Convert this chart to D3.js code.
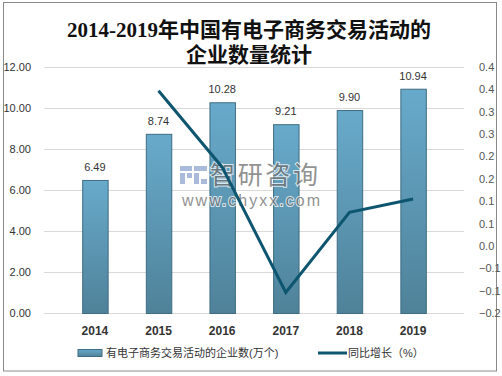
<!DOCTYPE html>
<html>
<head>
<meta charset="utf-8">
<script src="https://d3js.org/d3.v7.min.js"></script>
<style>
  body { margin: 0; background: #fff; }
  text { font-family: "Liberation Sans", "Noto Sans CJK SC", sans-serif; }
</style>
</head>
<body>
<script>
const years = ["2014", "2015", "2016", "2017", "2018", "2019"]
const companies = [6.49, 8.74, 10.28, 9.21, 9.90, 10.94]
// growth starts in 2015
const growthYears = ["2015", "2016", "2017", "2018", "2019"]
const growth = [0.347, 0.176, -0.104, 0.075, 0.105]
const leftTicks = [0, 2, 4, 6, 8, 10, 12]
const rightTicks = [-0.15, -0.1, -0.05, 0, 0.05, 0.1, 0.15, 0.2, 0.25, 0.3, 0.35, 0.4]
const titleLines = ["2014-2019年中国有电子商务交易活动的", "企业数量统计"]
const legendNames = ["有电子商务交易活动的企业数(万个)", "同比增长（%）"]

const w = 502, h = 376
const m = { top: 67, right: 38, bottom: 63, left: 44 }

const svg = d3.select("body").append("svg").attr("width", w).attr("height", h)

const defs = svg.append("defs")
const grad = defs.append("linearGradient").attr("id", "barGrad")
  .attr("x1", 0).attr("y1", 0).attr("x2", 0).attr("y2", 1)
grad.append("stop").attr("offset", "0%").attr("stop-color", "#68aacb")
grad.append("stop").attr("offset", "100%").attr("stop-color", "#4f8299")

// outer frame
svg.append("rect").attr("x", 3.5).attr("y", 2.5).attr("width", 493).attr("height", 368.5)
  .attr("fill", "none").attr("stroke", "#8a8a8a").attr("stroke-width", 1)

svg.selectAll(".title").data(titleLines).join("text")
  .attr("x", 249).attr("y", (d, i) => 37 + i * 25)
  .attr("text-anchor", "middle")
  .style("font-family", "'Liberation Serif', 'Noto Sans CJK SC', serif")
  .style("font-size", "21px").style("font-weight", "bold").attr("fill", "#111")
  .text(d => d)

const x = d3.scaleBand().domain(years).range([m.left, w - m.right]).padding(0.6)
const y = d3.scaleLinear().domain([0, 12]).range([h - m.bottom, m.top])
const y2 = d3.scaleLinear().domain([-0.15, 0.4]).range([h - m.bottom, m.top])

// gridlines
svg.append("g").selectAll("line").data(leftTicks).join("line")
  .attr("x1", m.left).attr("x2", w - m.right)
  .attr("y1", d => y(d) + 0.5).attr("y2", d => y(d) + 0.5)
  .attr("stroke", "#d9d9d9")

const yAxis = svg.append("g").attr("transform", `translate(${m.left - 10},0)`)
  .call(d3.axisLeft(y).tickValues(leftTicks).tickFormat(d3.format(".2f")).tickSize(0))
yAxis.select(".domain").remove()
yAxis.selectAll("text").attr("fill", "#333").style("font-size", "11px")

const y2Axis = svg.append("g").attr("transform", `translate(${w - m.right + 12},0)`)
  .call(d3.axisRight(y2).tickValues(rightTicks).tickFormat(d => d3.format(".1f")(Math.round(d * 10 + (d < 0 ? -1e-9 : 1e-9)) / 10)).tickSize(0))
y2Axis.select(".domain").remove()
y2Axis.selectAll("text").attr("fill", "#555").style("font-size", "11px")

const xAxis = svg.append("g").attr("transform", `translate(0,${h - m.bottom + 6})`)
  .call(d3.axisBottom(x).tickSize(0))
xAxis.select(".domain").remove()
xAxis.selectAll("text").attr("fill", "#333").style("font-size", "12px").style("font-weight", "bold").attr("dy", "1.1em")

// bars
svg.append("g").selectAll("rect").data(companies).join("rect")
  .attr("x", (d, i) => x(years[i]) + 0.5)
  .attr("y", d => y(d) + 0.5)
  .attr("width", x.bandwidth())
  .attr("height", d => y(0) - y(d))
  .attr("fill", "url(#barGrad)")
  .attr("stroke", "#3e6c82").attr("stroke-width", 1)

svg.append("g").selectAll("text").data(companies).join("text")
  .attr("x", (d, i) => x(years[i]) + x.bandwidth() / 2)
  .attr("y", d => y(d) - 9)
  .attr("text-anchor", "middle").attr("fill", "#333").style("font-size", "11px")
  .text(d => d.toFixed(2))

// watermark
const wm = svg.append("g").attr("opacity", 0.75)
const logoColor = "#8ea3cf"
wm.append("rect").attr("x", 180).attr("y", 166).attr("width", 12).attr("height", 5).attr("fill", logoColor)
wm.append("rect").attr("x", 180).attr("y", 173).attr("width", 5).attr("height", 11).attr("fill", logoColor)
wm.append("rect").attr("x", 187).attr("y", 173).attr("width", 5).attr("height", 5).attr("fill", logoColor)
wm.append("rect").attr("x", 194).attr("y", 166).attr("width", 13).attr("height", 5).attr("fill", logoColor)
wm.append("rect").attr("x", 194).attr("y", 173).attr("width", 5).attr("height", 11).attr("fill", logoColor)
wm.append("rect").attr("x", 201).attr("y", 179).attr("width", 6).attr("height", 5).attr("fill", logoColor)
wm.append("text").attr("x", 210).attr("y", 184).attr("fill", "#6e6e6e")
  .attr("stroke", "#fff").attr("stroke-width", 2).attr("paint-order", "stroke")
  .attr("textLength", 108)
  .style("font-family", "'Noto Sans CJK SC', sans-serif").style("font-size", "25px")
  .text("智研咨询")
wm.append("text").attr("x", 182).attr("y", 206).attr("fill", "#6e6e6e")
  .attr("stroke", "#fff").attr("stroke-width", 2).attr("paint-order", "stroke")
  .attr("textLength", 138)
  .style("font-size", "16px")
  .text("www.chyxx.com")

// growth line
const line = d3.line()
  .x((d, i) => x(growthYears[i]) + x.bandwidth() / 2)
  .y(d => y2(d))
svg.append("path").datum(growth).attr("d", line)
  .attr("fill", "none").attr("stroke", "#0e5570").attr("stroke-width", 3)

// legend
const lg = svg.append("g")
lg.append("rect").attr("x", 78).attr("y", 349.5).attr("width", 24).attr("height", 7)
  .attr("fill", "url(#barGrad)").attr("stroke", "#3e6c82")
lg.append("text").attr("x", 106).attr("y", 357).attr("fill", "#333").style("font-size", "11px")
  .text(legendNames[0])
lg.append("line").attr("x1", 318).attr("x2", 347).attr("y1", 353).attr("y2", 353)
  .attr("stroke", "#0e5570").attr("stroke-width", 3)
lg.append("text").attr("x", 348).attr("y", 357).attr("fill", "#333").style("font-size", "11px")
  .text(legendNames[1])
</script>
</body>
</html>
